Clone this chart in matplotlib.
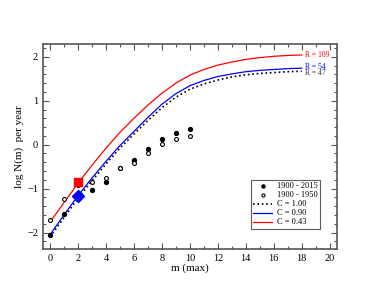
import matplotlib
matplotlib.use("Agg")
import matplotlib.pyplot as plt
import numpy as np

plt.rcParams['font.family'] = ['Liberation Serif', 'DejaVu Serif']

m_obs = [0, 1, 2, 3, 4, 5, 6, 7, 8, 9, 10]
logN_2015 = [-2.05, -1.58, -1.17, -1.02, -0.84, -0.52, -0.36, -0.10, 0.13, 0.26, 0.35]
logN_1950 = [-1.71, -1.23, -0.92, -0.86, -0.75, -0.52, -0.41, -0.18, 0.02, 0.13, 0.20]

m_fit = [0, 1, 2, 3, 4, 5, 6, 7, 8, 9, 10, 11, 12, 13, 14, 15, 16, 17, 18]
c100 = [-2.10, -1.66, -1.22, -0.82, -0.44, -0.08, 0.24, 0.55, 0.84, 1.08, 1.26, 1.38, 1.47, 1.54, 1.59, 1.62, 1.64, 1.66, 1.67]
c090 = [-2.05, -1.60, -1.16, -0.76, -0.38, -0.02, 0.30, 0.62, 0.92, 1.16, 1.34, 1.46, 1.55, 1.61, 1.66, 1.69, 1.71, 1.73, 1.74]
c043 = [-1.76, -1.32, -0.88, -0.47, -0.08, 0.28, 0.60, 0.90, 1.17, 1.40, 1.58, 1.71, 1.81, 1.88, 1.94, 1.98, 2.01, 2.03, 2.04]

sq_m, sq_val = 2, -0.85
dia_m, dia_val = 2, -1.16

fig = plt.figure(figsize=(3.8, 2.94), dpi=100)
ax = fig.add_axes([43/380, 1-249.3/294, (336.7-43)/380, (249.3-44)/294])

ax.plot(m_fit, c100, ':', color='black', lw=1.2, label='C = 1.00', zorder=2)
ax.plot(m_fit, c090, '-', color='blue', lw=0.9, label='C = 0.90', zorder=3)
ax.plot(m_fit, c043, '-', color='red', lw=0.9, label='C = 0.43', zorder=3)
ax.plot(m_obs, logN_2015, 'o', color='black', ms=2.8, label='1900 - 2015', zorder=4)
ax.plot(m_obs, logN_1950, 'o', mfc='white', mec='black', mew=0.8, ms=2.8, label='1900 - 1950', zorder=4)
ax.plot([sq_m], [sq_val], 's', color='red', ms=6, zorder=5)
ax.plot([dia_m], [dia_val], 'D', color='blue', ms=6, zorder=5)

ax.text(18.25, 2.04, 'R = 109', color='red', fontsize=5.5, va='center')
ax.text(18.25, 1.77, 'R = 54', color='blue', fontsize=5.5, va='center')
ax.text(18.25, 1.62, 'R = 47', color='#333333', fontsize=5.5, va='center')

ax.set_xlim(-0.5, 20.5)
ax.set_ylim(-2.38, 2.29)
ax.set_xticks(range(0, 21, 2))
ax.set_xticks(range(0, 21, 1), minor=True)
ax.set_yticks([-2, -1, 0, 1, 2])
ax.set_yticks(np.arange(-2.2, 2.3, 0.2), minor=True)
ax.tick_params(which='both', direction='in', top=True, right=True, colors='#555555', labelcolor='black', labelsize=7.5, width=0.8)
ax.tick_params(which='major', length=4)
ax.tick_params(which='minor', length=2)
for s in ax.spines.values():
    s.set_color('#555555')
    s.set_linewidth(1.2)

ax.set_xlabel('m (max)', fontsize=8, labelpad=0)
ax.set_ylabel('log N(m)  per year', fontsize=8, labelpad=2)

handles, labels = ax.get_legend_handles_labels()
order = [3, 4, 0, 1, 2]
leg = ax.legend([handles[i] for i in order], [labels[i] for i in order], loc='lower right',
                bbox_to_anchor=(0.943, 0.099), borderaxespad=0, fontsize=6, frameon=True, fancybox=False,
                handlelength=2.2, labelspacing=0.12, borderpad=0.3, handletextpad=0.6, markerscale=0.8)
leg.get_frame().set_edgecolor('#333333')
leg.get_frame().set_linewidth(0.8)

fig.savefig('out.png', dpi=100)
